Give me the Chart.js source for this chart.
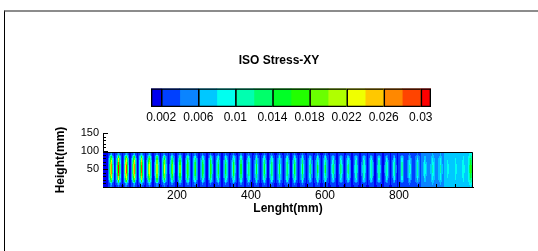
<!DOCTYPE html>
<html>
<head>
<meta charset="utf-8">
<script src="https://cdn.jsdelivr.net/npm/chart.js@4.4.0/dist/chart.umd.min.js"></script>
<style>
  body { margin: 0; background: #fff; }
  #marco { position: absolute; left: 4px; top: 10px; width: 534px; height: 241px; border-top: 2px solid #8c8c8c; border-left: 1px solid #000; box-sizing: border-box; }
  #mapaChart, #barraChart { position: absolute; left: 0; top: 0; }
</style>
</head>
<body>
<div id="marco"></div>
<canvas id="mapaChart" width="538" height="251"></canvas>
<canvas id="barraChart" width="538" height="130"></canvas>
<script>
// Niveles de la barra de colores (ISO Stress-XY)
const niveles = [0.002, 0.004, 0.006, 0.008, 0.01, 0.012, 0.014, 0.016, 0.018, 0.02, 0.022, 0.024, 0.026, 0.028, 0.03];
const colores = ['#0000f0', '#0040ff', '#0a84ff', '#00c8ff', '#00fff0', '#00ffb0', '#00ff6a', '#00ff26',
                 '#22ff00', '#6aff00', '#b0ff00', '#f0ff00', '#ffc800', '#ff8800', '#ff4400', '#ff0000'];
const barraMin = 0.0009;
const barraMax = 0.0311;
const barraTicks = [0.002, 0.006, 0.01, 0.014, 0.018, 0.022, 0.026, 0.03];
const barraEtiquetas = ['0.002', '0.006', '0.01', '0.014', '0.018', '0.022', '0.026', '0.03'];

// Ejes del mapa
const xTicks = [200, 400, 600, 800];
const yTicks = [50, 100, 150];
const altoViga = 97; // mm

// Franjas de tension a lo largo de la viga (posicion mm, valor pico, valor de fondo)
const franjaX = [22, 42, 63, 84, 104, 125, 146, 166, 187, 208, 229, 249, 270, 291, 311, 332,
                 353, 373, 394, 415, 436, 456, 477, 498, 518, 539, 560, 580, 601, 622, 643, 663,
                 684, 705, 725, 746, 767, 787, 808, 829, 850, 870, 891, 912, 932, 953, 974, 994];
const franjaPico = [0.030, 0.031, 0.031, 0.030, 0.029, 0.026, 0.024, 0.022, 0.021, 0.020, 0.019, 0.018,
                    0.017, 0.017, 0.016, 0.016, 0.016, 0.016, 0.015, 0.015, 0.015, 0.015, 0.015, 0.015,
                    0.015, 0.015, 0.014, 0.014, 0.014, 0.014, 0.014, 0.014, 0.013, 0.013, 0.013, 0.013,
                    0.012, 0.012, 0.012, 0.011, 0.011, 0.010, 0.010, 0.010, 0.009, 0.009, 0.009, 0.017];
const franjaBase = [0.0018, 0.0018, 0.0018, 0.0018, 0.0018, 0.0018, 0.0018, 0.0018, 0.0018, 0.0018, 0.0018, 0.0018,
                    0.0018, 0.0018, 0.0018, 0.0018, 0.0018, 0.0018, 0.0018, 0.0018, 0.0018, 0.0018, 0.0018, 0.0018,
                    0.0018, 0.0018, 0.0018, 0.0018, 0.0018, 0.0018, 0.0018, 0.0018, 0.0018, 0.0018, 0.0018, 0.0018,
                    0.0018, 0.0018, 0.0022, 0.0026, 0.003, 0.004, 0.005, 0.005, 0.006, 0.006, 0.007, 0.007];
// Forma de cada franja: por mm desde el centro y por cada 5 mm de altura
const perfilAncho = [1, 0.9, 0.7, 0.5, 0.38, 0.3, 0.22, 0.12, 0.05, 0, 0];
const perfilAlto = [0.12, 0.2, 0.35, 0.55, 0.7, 0.82, 0.9, 0.96, 1, 1, 1, 1, 0.96, 0.9, 0.82, 0.7, 0.55, 0.35, 0.2, 0.12];

Chart.defaults.font.family = "'Liberation Sans', Arial, sans-serif";
Chart.defaults.color = '#000';

// Color de la banda para un valor
function colorDe(v) {
  let i = 0;
  while (i < niveles.length && v >= niveles[i]) i++;
  return colores[i];
}

// Dibuja el campo de tension pixel a pixel usando las escalas
const pluginCampo = {
  id: 'campo',
  beforeDatasetsDraw(chart) {
    const ctx = chart.ctx;
    const xs = chart.scales.x, ys = chart.scales.y;
    const x0 = Math.round(xs.getPixelForValue(xs.min));
    const x1 = Math.round(xs.getPixelForValue(xs.max));
    const yTop = Math.round(ys.getPixelForValue(altoViga));
    const yBot = Math.round(ys.getPixelForValue(0));
    for (let px = x0; px < x1; px++) {
      const mx = xs.getValueForPixel(px + 0.5);
      let k = 0;
      for (let i = 1; i < franjaX.length; i++) {
        if (Math.abs(franjaX[i] - mx) < Math.abs(franjaX[k] - mx)) k = i;
      }
      const d = Math.min(perfilAncho.length - 1, Math.round(Math.abs(mx - franjaX[k])));
      for (let py = yTop; py < yBot; py++) {
        const my = ys.getValueForPixel(py + 0.5);
        const fila = Math.min(perfilAlto.length - 1, Math.max(0, Math.floor(my / 5)));
        const v = franjaBase[k] + (franjaPico[k] - franjaBase[k]) * perfilAncho[d] * perfilAlto[fila];
        ctx.fillStyle = colorDe(v);
        ctx.fillRect(px, py, 1, 1);
      }
    }
    ctx.save();
    ctx.strokeStyle = '#000';
    ctx.lineWidth = 1;
    ctx.beginPath();
    ctx.moveTo(x0, yTop + 0.5);
    ctx.lineTo(x1 - 0.5, yTop + 0.5);
    ctx.lineTo(x1 - 0.5, yBot);
    ctx.stroke();
    ctx.restore();
  },
  afterDraw(chart) {
    // marcas menores hacia dentro
    const ctx = chart.ctx;
    const xs = chart.scales.x, ys = chart.scales.y;
    const area = chart.chartArea;
    ctx.save();
    ctx.strokeStyle = '#000';
    ctx.lineWidth = 1;
    ctx.beginPath();
    for (let v = 50; v < xs.max; v += 50) {
      const p = Math.round(xs.getPixelForValue(v)) + 0.5;
      const l = xTicks.includes(v) ? 5 : 3;
      ctx.moveTo(p, area.bottom);
      ctx.lineTo(p, area.bottom - l);
    }
    for (let v = 10; v <= ys.max; v += 10) {
      const p = Math.round(ys.getPixelForValue(v)) + 0.5;
      const l = yTicks.includes(v) ? 5 : 3;
      ctx.moveTo(area.left, p);
      ctx.lineTo(area.left + l, p);
    }
    ctx.stroke();
    ctx.restore();
  }
};

// Grafico del mapa de tension
function crearGraficoMapa() {
  const ctx = document.getElementById('mapaChart').getContext('2d');
  const config = {
    type: 'scatter',
    data: { datasets: [] },
    options: {
      responsive: false,
      animation: false,
      layout: { padding: { left: 50, right: 65, top: 133, bottom: 0 } },
      plugins: { legend: { display: false }, tooltip: { enabled: false } },
      scales: {
        x: {
          type: 'linear', min: 0, max: 1000,
          afterBuildTicks: s => { s.ticks = xTicks.map(v => ({ value: v })); },
          afterFit: s => { s.height = 64; },
          grid: { display: false, drawTicks: false },
          border: { display: true, color: '#000', width: 1 },
          ticks: { font: { size: 12 }, padding: 1, maxRotation: 0, autoSkip: false },
          title: { display: true, text: 'Lenght(mm)', font: { size: 12, weight: 'bold', lineHeight: 1.2 }, padding: { top: 0, bottom: 35 } }
        },
        y: {
          type: 'linear', min: 0, max: 150,
          afterBuildTicks: s => { s.ticks = yTicks.map(v => ({ value: v })); },
          afterFit: s => { s.width = 53; },
          grid: { display: false, drawTicks: false },
          border: { display: true, color: '#000', width: 1 },
          ticks: { font: { size: 11 }, padding: 4, autoSkip: false },
          title: { display: true, text: 'Height(mm)', font: { size: 12, weight: 'bold', lineHeight: 1.2 }, padding: { top: 3, bottom: 0 } }
        }
      }
    },
    plugins: [pluginCampo]
  };
  new Chart(ctx, config);
}

// Grafico de la barra de colores
function crearGraficoBarra() {
  const ctx = document.getElementById('barraChart').getContext('2d');
  const limites = [barraMin, ...niveles, barraMax];
  const grupos = [barraMin, ...barraTicks, barraMax];

  const bandas = colores.map((c, i) => ({
    data: [[limites[i], limites[i + 1]]],
    backgroundColor: c,
    borderWidth: 0,
    grouped: false,
    barPercentage: 1,
    categoryPercentage: 1
  }));
  // contornos negros cada dos bandas (van primero para dibujarse encima)
  const ultimo = grupos.length - 2;
  const contornos = grupos.slice(0, -1).map((g, i) => ({
    data: [[g, grupos[i + 1]]],
    backgroundColor: 'rgba(0,0,0,0)',
    borderColor: '#000',
    borderWidth: { top: 1, bottom: 1, left: 1, right: i === ultimo ? 1 : 0 },
    borderSkipped: false,
    grouped: false,
    barPercentage: 1,
    categoryPercentage: 1
  }));

  const config = {
    type: 'bar',
    data: { labels: [''], datasets: [...contornos, ...bandas] },
    options: {
      indexAxis: 'y',
      responsive: false,
      animation: false,
      layout: { padding: { left: 127, right: 107, top: 53, bottom: 0 } },
      plugins: {
        legend: { display: false },
        tooltip: { enabled: false },
        title: { display: true, text: 'ISO Stress-XY', font: { size: 12, weight: 'bold', lineHeight: 1.2 }, padding: { top: 0, bottom: 21 } }
      },
      scales: {
        x: {
          type: 'linear', min: barraMin, max: barraMax,
          afterBuildTicks: s => { s.ticks = barraTicks.map(v => ({ value: v })); },
          afterFit: s => { s.height = 23; },
          grid: { display: false, drawTicks: false },
          border: { display: false },
          ticks: { font: { size: 12 }, padding: 3, maxRotation: 0, autoSkip: false, callback: (v, i) => barraEtiquetas[i] }
        },
        y: {
          afterFit: s => { s.width = 24; },
          grid: { display: false, drawTicks: false },
          border: { display: false },
          ticks: { display: false }
        }
      }
    }
  };
  new Chart(ctx, config);
}

crearGraficoMapa();
crearGraficoBarra();
</script>
</body>
</html>
